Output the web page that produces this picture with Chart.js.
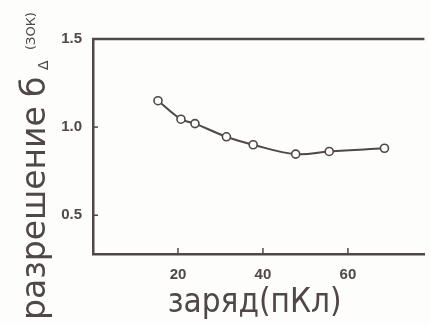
<!DOCTYPE html>
<html lang="ru">
<head>
  <meta charset="UTF-8">
  <title>Разрешение от заряда</title>
  <script src="https://cdn.jsdelivr.net/npm/chart.js"></script>
  <style>
    body { margin: 0; background: #fdfdfc; }
    canvas { display: block; }
  </style>
</head>
<body>
  <canvas id="chart" width="430" height="324"></canvas>

  <script>
    // данные
    const charge = [15.3, 20.7, 24.0, 31.4, 37.7, 47.7, 55.6, 68.6];
    const resolution = [1.15, 1.045, 1.02, 0.945, 0.9, 0.847, 0.862, 0.88];
    const xTicks = [20, 40, 60];
    const yTicks = [0.5, 1.0, 1.5];

    const ink = '#4f4748';
    const tickFont = { family: "'Liberation Sans Narrow', 'Liberation Sans', sans-serif", size: 15, weight: 'bold' };

    // рамка сверху, внутренние засечки и подписи осей
    const decor = {
      id: 'decor',
      afterDraw(chart) {
        const { ctx, chartArea: a, scales: { x, y } } = chart;
        ctx.save();
        ctx.strokeStyle = ink;
        ctx.lineWidth = 2.5;
        ctx.beginPath();
        ctx.moveTo(a.left - 1, a.top);
        ctx.lineTo(a.right, a.top);
        ctx.stroke();

        ctx.lineWidth = 1.5;
        xTicks.forEach(v => {
          const px = x.getPixelForValue(v);
          ctx.beginPath();
          ctx.moveTo(px, a.bottom);
          ctx.lineTo(px, a.bottom - 6);
          ctx.stroke();
        });
        yTicks.forEach(v => {
          const py = y.getPixelForValue(v);
          ctx.beginPath();
          ctx.moveTo(a.left, py);
          ctx.lineTo(a.left + 5, py);
          ctx.stroke();
        });

        ctx.fillStyle = ink;
        ctx.textBaseline = 'alphabetic';

        // подпись оси X
        ctx.save();
        ctx.font = "33px 'DejaVu Sans', sans-serif";
        ctx.translate((a.left + a.right) / 2 - 4, 312);
        ctx.scale(0.9, 1);
        ctx.textAlign = 'center';
        ctx.fillText('заряд(пКл)', 0, 0);
        ctx.restore();

        // подпись оси Y
        ctx.save();
        ctx.translate(45, 320);
        ctx.rotate(-Math.PI / 2);
        ctx.textAlign = 'left';
        ctx.font = "33px 'DejaVu Sans', sans-serif";
        ctx.fillText('разрешение', 0, 0);
        ctx.fillText('б', 223, 0);
        ctx.font = "14px 'DejaVu Sans', sans-serif";
        ctx.fillText('Δ', 250, 3);
        ctx.font = "13px 'DejaVu Sans', sans-serif";
        ctx.fillText('(ЗОК)', 270, -10);
        ctx.restore();

        ctx.restore();
      }
    };

    new Chart(document.getElementById('chart'), {
      type: 'scatter',
      data: {
        datasets: [{
          data: charge.map((c, i) => ({ x: c, y: resolution[i] })),
          showLine: true,
          tension: 0.4,
          borderColor: ink,
          borderWidth: 2,
          pointRadius: 4,
          pointBorderWidth: 1.6,
          pointBorderColor: ink,
          pointBackgroundColor: '#fdfdfc'
        }]
      },
      options: {
        responsive: false,
        animation: false,
        layout: { padding: { top: 39, right: 2, left: 0, bottom: 0 } },
        plugins: {
          legend: { display: false },
          tooltip: { enabled: false }
        },
        scales: {
          x: {
            type: 'linear',
            min: 0,
            max: 78,
            afterBuildTicks: s => { s.ticks = xTicks.map(v => ({ value: v })); },
            afterFit: s => { s.height = 70; },
            grid: { display: true, drawOnChartArea: false, drawTicks: false },
            border: { display: true, color: ink, width: 2.5 },
            ticks: { padding: 12, color: ink, font: tickFont, callback: v => v }
          },
          y: {
            min: 0.28,
            max: 1.5,
            afterBuildTicks: s => { s.ticks = yTicks.map(v => ({ value: v })); },
            afterFit: s => { s.width = 93; },
            grid: { display: true, drawOnChartArea: false, drawTicks: false },
            border: { display: true, color: ink, width: 2.5 },
            ticks: { padding: 11, color: ink, font: tickFont, callback: v => v.toFixed(1) }
          }
        }
      },
      plugins: [decor]
    });
  </script>
</body>
</html>
